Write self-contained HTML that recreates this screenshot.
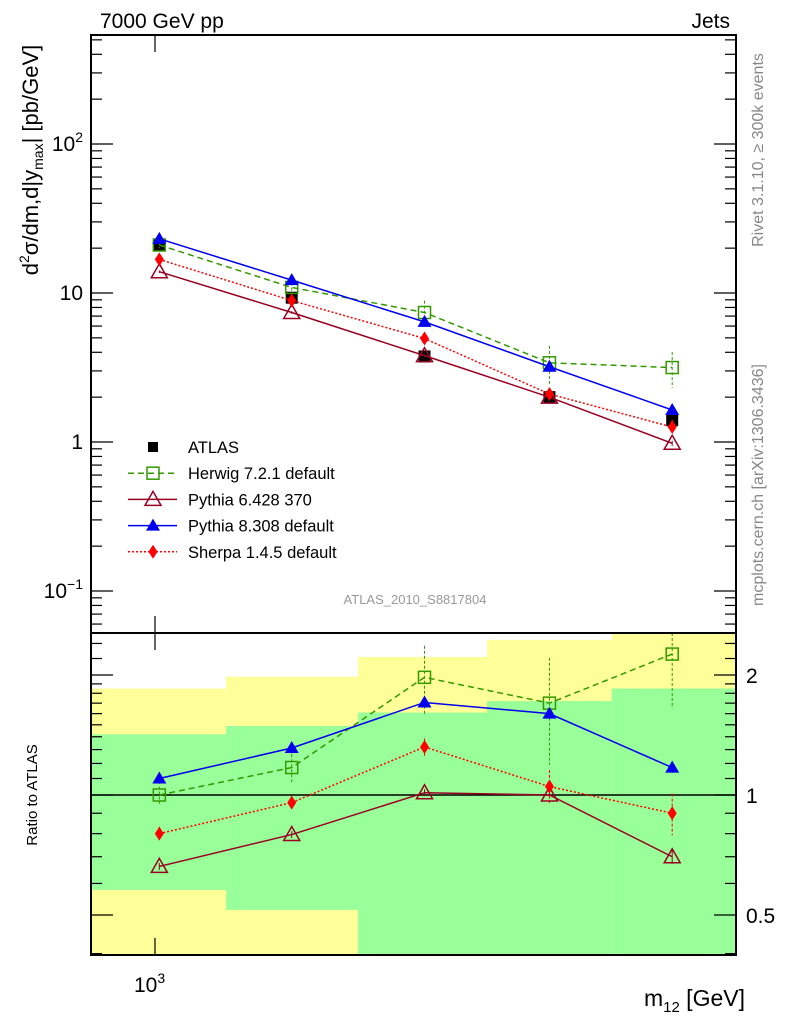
<!DOCTYPE html>
<html><head><meta charset="utf-8"><style>
body{margin:0;background:#fff}
svg{display:block;font-family:"Liberation Sans",sans-serif}
</style></head><body>
<svg id="c" width="786" height="1024" viewBox="0 0 786 1024">
<g id="bands"></g>
<g id="ticks"></g>
<g id="series"></g>
<rect x="91" y="35" width="645" height="598" fill="none" stroke="#000" stroke-width="2"/>
<rect x="91" y="633" width="645" height="322" fill="none" stroke="#000" stroke-width="2"/>
<text x="100" y="28" font-size="21">7000 GeV pp</text>
<text x="730" y="28" font-size="21" text-anchor="end">Jets</text>
<text transform="translate(38,160) rotate(-90)" font-size="22" text-anchor="middle">d<tspan font-size="14" dy="-9">2</tspan><tspan dy="9">σ/dm,d|y</tspan><tspan font-size="14" dy="5">max</tspan><tspan dy="-5">| [pb/GeV]</tspan></text>
<text transform="translate(37,795) rotate(-90)" font-size="15" text-anchor="middle">Ratio to ATLAS</text>
<text x="415" y="604" font-size="13" fill="#999" text-anchor="middle">ATLAS_2010_S8817804</text>
<text transform="translate(763,150) rotate(-90)" font-size="16" fill="#888" text-anchor="middle">Rivet 3.1.10, ≥ 300k events</text>
<text transform="translate(763,485) rotate(-90)" font-size="16" fill="#888" text-anchor="middle">mcplots.cern.ch [arXiv:1306.3436]</text>
<text x="745" y="1006" font-size="23" text-anchor="end">m<tspan font-size="15" dy="6">12</tspan><tspan dy="-6"> [GeV]</tspan></text>
<g id="legend"></g>
</svg>
<script>
const masses=[1010,1370,1860,2480,3290];
const binEdges=[863,1178,1596,2148,2862,3819];
const atlas=[21,9.3,3.75,2.0,1.4];
const atlasErr=[0.06,0.06,0.05,0.05,0.06];
const herwig=[21,10.9,7.4,3.4,3.16];
const herwigErr=[0.05,0.08,0.2,0.3,0.27];
const pythia6=[13.9,7.4,3.8,2.0,0.98];
const pythia6Err=[0.02,0.02,0.02,0.02,0.04];
const pythia8=[23.1,12.2,6.4,3.2,1.64];
const pythia8Err=[0.03,0.03,0.02,0.02,0.03];
const sherpa=[16.8,8.9,4.95,2.1,1.26];
const sherpaErr=[0.04,0.04,0.05,0.1,0.12];
const bandYellowHi=[1.85,1.98,2.22,2.45,2.7];
const bandYellowLo=[0.3,0.3,0.3,0.3,0.3];
const bandGreenHi=[1.42,1.49,1.61,1.72,1.85];
const bandGreenLo=[0.578,0.515,0.3,0.3,0.3];
const yTickVals=[0.1,1,10,100];
const yTickBase=["10","1","10","10"];
const yTickExp=["\u22121","","","2"];
const rTickVals=[0.5,1,2];
const rTickLabels=["0.5","1","2"];

const NS="http://www.w3.org/2000/svg";
const L=91,R=736,T=35,MB=633,RB=955;
const xs=m=>155+1000*Math.log10(m/1000);
const ys=v=>442-149*Math.log10(v);
const rs=v=>795-398.6*Math.log10(v);
function el(tag,attrs,parent){const e=document.createElementNS(NS,tag);for(const k in attrs)e.setAttribute(k,attrs[k]);parent.appendChild(e);return e;}
const gB=document.getElementById('bands'),gT=document.getElementById('ticks'),gS=document.getElementById('series'),gL=document.getElementById('legend');

for(let i=0;i<5;i++){
  const x0=Math.max(L,xs(binEdges[i])),x1=Math.min(R,xs(binEdges[i+1]));
  const yt=Math.max(MB,rs(bandYellowHi[i])),yb=Math.min(RB,rs(bandYellowLo[i]));
  const y=el('rect',{x:x0,y:yt,width:x1-x0,height:yb-yt,fill:'#ffff99'},gB);
  
  
  const gt=Math.max(MB,rs(bandGreenHi[i])),gb=Math.min(RB,rs(bandGreenLo[i]));
  const g=el('rect',{x:x0,y:gt,width:x1-x0,height:gb-gt,fill:'#99ff99'},gB);
  
  
}
const one=el('line',{x1:L,x2:R,y1:rs(1),y2:rs(1),stroke:'#000','stroke-width':1.5},gB);



for(let d=-2;d<=2;d++){for(let k=1;k<10;k++){const v=k*Math.pow(10,d);const y=ys(v);if(y<T||y>MB)continue;const len=k==1?22:11;
 el('line',{x1:L,x2:L+len,y1:y,y2:y,stroke:'#000','stroke-width':1.2},gT);el('line',{x1:R-len,x2:R,y1:y,y2:y,stroke:'#000','stroke-width':1.2},gT);}}
yTickVals.forEach((v,i)=>{const t=el('text',{x:83,y:ys(v)+7,'font-size':21,'text-anchor':'end'},gT);
 t.textContent=yTickBase[i];
 if(yTickExp[i]){const s=el('tspan',{'font-size':14,dy:-9},t);s.textContent=yTickExp[i];}
 
 });
for(let v=0.4;v<=2.6;v+=0.1){const vv=Math.round(v*10)/10;if(vv>2&&Math.round(vv*10)%2==1)continue;const y=rs(vv);if(y<MB||y>RB)continue;const maj=(vv==0.5||vv==1||vv==2);const len=maj?22:11;
 el('line',{x1:L,x2:L+len,y1:y,y2:y,stroke:'#000','stroke-width':1.2},gT);el('line',{x1:R-len,x2:R,y1:y,y2:y,stroke:'#000','stroke-width':1.2},gT);}
rTickVals.forEach((v,i)=>{const t=el('text',{x:746,y:rs(v)+8,'font-size':21},gT);t.textContent=rTickLabels[i];
 
 });
[[T,T+17],[MB-17,MB+17],[RB-17,RB]].forEach(([a,b])=>el('line',{x1:155,x2:155,y1:a,y2:b,stroke:'#000','stroke-width':1.2},gT));
const xl=el('text',{x:134,y:992,'font-size':21},gT);xl.innerHTML='10<tspan font-size="14" dy="-9">3</tspan>';



function marker(type,x,y,color,g){
  if(type=='sq')return el('rect',{x:x-6,y:y-6,width:12,height:12,fill:'#000'},g);
  if(type=='osq')return el('rect',{x:x-6,y:y-6,width:12,height:12,fill:'none',stroke:color,'stroke-width':1.5},g);
  if(type=='otri')return el('polygon',{points:`${x},${y-8} ${x-8},${y+6} ${x+8},${y+6}`,fill:'none',stroke:color,'stroke-width':1.5},g);
  if(type=='tri')return el('polygon',{points:`${x},${y-7} ${x-7},${y+5} ${x+7},${y+5}`,fill:color},g);
  return el('polygon',{points:`${x},${y-7} ${x-4.5},${y} ${x},${y+7} ${x+4.5},${y}`,fill:color},g);
}
const models=[
 {name:'herwig',label:'Herwig 7.2.1 default',vals:herwig,err:herwigErr,color:'#339900',dash:'6,4',m:'osq'},
 {name:'pythia6',label:'Pythia 6.428 370',vals:pythia6,err:pythia6Err,color:'#990022',dash:'',m:'otri'},
 {name:'pythia8',label:'Pythia 8.308 default',vals:pythia8,err:pythia8Err,color:'#0000ee',dash:'',m:'tri'},
 {name:'sherpa',label:'Sherpa 1.4.5 default',vals:sherpa,err:sherpaErr,color:'#ff0000',dash:'2,2',m:'dia'}];

atlas.forEach((v,i)=>{const x=xs(masses[i]);el('line',{x1:x,x2:x,y1:ys(v*(1+atlasErr[i])),y2:ys(v*(1-atlasErr[i])),stroke:'#000'},gS);
 const mk=marker('sq',x,ys(v),'#000',gS);
 
 });
models.forEach(md=>{
 const g=el('g',{},gS);
 
 
 const pm=md.vals.map((v,i)=>xs(masses[i])+','+ys(v)).join(' ');
 el('polyline',{points:pm,fill:'none',stroke:md.color,'stroke-width':1.5,'stroke-dasharray':md.dash},g);
 const ratios=md.vals.map((v,i)=>v/atlas[i]);
 const pr=ratios.map((r,i)=>xs(masses[i])+','+rs(r)).join(' ');
 el('polyline',{points:pr,fill:'none',stroke:md.color,'stroke-width':1.5,'stroke-dasharray':md.dash},g);
 md.vals.forEach((v,i)=>{const x=xs(masses[i]),e=md.err[i];
  el('line',{x1:x,x2:x,y1:ys(v*(1+e)),y2:ys(v*(1-e)),stroke:md.color,'stroke-dasharray':md.dash?'3,2':''},g);
  el('line',{x1:x,x2:x,y1:Math.max(MB,rs(ratios[i]*(1+e))),y2:rs(ratios[i]*(1-e)),stroke:md.color,'stroke-dasharray':md.dash?'3,2':''},g);
  const a=marker(md.m,x,ys(v),md.color,g);
  
  
  const b=marker(md.m,x,rs(ratios[i]),md.color,g);
  
  
 });
});
const rows=[{label:'ATLAS',m:'sq',color:'#000'}].concat(models);
rows.forEach((r,i)=>{const y=447+i*26.2;const g=el('g',{},gL);
 
 
 if(i>0)el('line',{x1:128,x2:177,y1:y,y2:y,stroke:r.color,'stroke-width':1.5,'stroke-dasharray':r.dash},g);
 if(i==0)el('rect',{x:148,y:y-5,width:10,height:10,fill:'#000'},g);else marker(r.m,153,y,r.color,g);
 const t=el('text',{x:188,y:y+6,'font-size':16.5},g);t.textContent=r.label;});
</script>
</body></html>
